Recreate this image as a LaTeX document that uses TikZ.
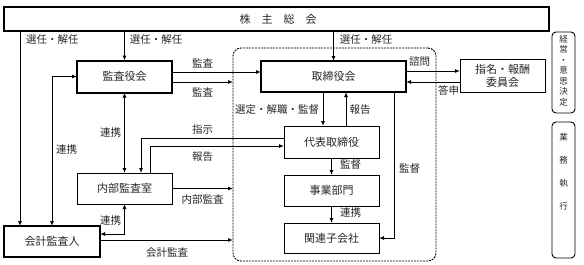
\documentclass[tikz,border=0pt]{standalone}
\usepackage{fontspec}
\newfontfamily\jp{Noto Sans CJK JP}
\usetikzlibrary{arrows.meta}
\begin{document}
\begin{tikzpicture}[x=1pt,y=-1pt,
  every node/.style={font=\jp, text=black!85, inner sep=0pt, outer sep=0pt},
  thinbox/.style={draw=black, line width=0.9pt, font=\jp\fontsize{11}{13}\selectfont},
  thickbox/.style={draw=black, line width=2pt, font=\jp\fontsize{11}{13}\selectfont},
  lbl/.style={font=\jp\fontsize{10.5}{12}\selectfont},
  conn/.style={line width=0.9pt, draw=black},
  arr/.style={conn, -{Latex[length=5pt,width=4pt]}},
  darr/.style={conn, {Latex[length=5pt,width=4pt]}-{Latex[length=5pt,width=4pt]}},
  sidebox/.style={draw=black, line width=0.9pt, rounded corners=4pt},
  sidetxt/.style={font=\jp\fontsize{8.5}{10.5}\selectfont, align=center}
]
\useasboundingbox (0,0) rectangle (584,265);

% frame
\node[draw=black, line width=0.9pt, dash pattern=on 2pt off 1pt, rounded corners=8pt,
      minimum width=203pt, minimum height=213pt] (frame) at (334.5,154.5) {};

% boxes
\node[thickbox, minimum width=545pt, minimum height=24pt] (soukai) at (276.5,19) {};
\node[font=\jp\fontsize{11}{13}\selectfont, text=black!85] (soukaitxt) at (278,19) {株　主　総　会};
\node[thickbox, minimum width=95pt, minimum height=32pt] (kansa) at (124.5,76.5) {監査役会};
\node[thickbox, minimum width=145pt, minimum height=31pt] (tori) at (333.5,76.5) {取締役会};
\node[thinbox, minimum width=85pt, minimum height=33pt, align=center] (iinkai) at (502.5,75.5) {指名・報酬\\委員会};
\node[thinbox, minimum width=95pt, minimum height=32pt] (daihyo) at (331.5,142) {代表取締役};
\node[thinbox, minimum width=95pt, minimum height=31pt] (jigyo) at (331.5,190.5) {事業部門};
\node[thinbox, minimum width=95pt, minimum height=30pt] (kanren) at (331.5,238) {関連子会社};
\node[thinbox, minimum width=95pt, minimum height=31pt] (naibu) at (124.5,188.5) {内部監査室};
\node[thickbox, minimum width=96pt, minimum height=31pt] (kaikei) at (52,241.5) {会計監査人};

% side boxes
\node[sidebox, minimum width=23pt, minimum height=81pt] (side1) at (563.5,72.5) {};
\node[sidetxt] (side1t) at (563.5,70.5) {経\\営\\・\\意\\思\\決\\定};
\node[sidebox, minimum width=23pt, minimum height=136pt] (side2) at (563.5,190) {};
\node[sidetxt, font=\jp\fontsize{8.5}{23}\selectfont] (side2t) at (563.5,172) {業\\務\\執\\行};

% connectors from 株主総会
\draw[arr] (soukai.south -| 20,0) -- (kaikei.north -| 20,0);
\draw[arr] (soukai.south -| kansa.north) -- (kansa.north);
\draw[arr] (soukai.south -| tori.north) -- (tori.north);
\node[lbl] (l1) at (52.5,40) {選任・解任};
\node[lbl] (l2) at (156,40) {選任・解任};
\node[lbl] (l3) at (366,40) {選任・解任};

% 監査
\draw[arr] (kansa.east |- 0,72) -- (tori.west |- 0,72);
\draw[arr] (kansa.east |- 0,82) -- (frame.west |- 0,82);
\node[lbl] (l4) at (202.5,63) {監査};
\node[lbl] (l5) at (202.5,92) {監査};

% 諮問・答申
\draw[arr] (tori.east |- 0,71) -- (iinkai.west |- 0,71);
\draw[arr] (iinkai.west |- 0,82) -- (tori.east |- 0,82);
\node[lbl] (l6) at (419.5,62) {諮問};
\node[lbl] (l7) at (448.5,90) {答申};

% 取締役会 - 代表取締役
\draw[arr] (tori.south -| 323,0) -- (daihyo.north -| 323,0);
\draw[arr] (daihyo.north -| 346,0) -- (tori.south -| 346,0);
\node[lbl] (l8) at (277,110) {選定・解職・監督};
\node[lbl] (l9) at (360,110) {報告};

% 監督 to 関連子会社
\draw[arr] (tori.south -| 394,0) |- (kanren.east);
\node[lbl] (l10) at (409.5,169) {監督};

% 代表 - 事業 - 関連
\draw[arr] (daihyo.south) -- (jigyo.north);
\draw[arr] (jigyo.south) -- (kanren.north);
\node[lbl] (l11) at (350.5,165) {監督};
\node[lbl] (l12) at (350.5,213) {連携};

% 指示・報告
\draw[arr] (daihyo.west |- 0,138) -| (naibu.north -| 141,0);
\draw[arr] (naibu.north -| 150,0) |- (daihyo.west |- 0,146);
\node[lbl] (l13) at (202.5,130) {指示};
\node[lbl] (l14) at (202.5,157) {報告};

% 監査役会 - 内部監査室
\draw[darr] (kansa.south) -- (naibu.north);
\node[lbl] (l15) at (110.5,133) {連携};

% 監査役会 - 会計監査人
\draw[darr] (kansa.west) -| (kaikei.north -| 52,0);
\node[lbl] (l16) at (66.5,150) {連携};

% 内部監査
\draw[arr] (naibu.east) -- (frame.west |- naibu.east);
\node[lbl] (l17) at (202.5,200) {内部監査};

% 内部監査室 - 会計監査人
\draw[darr] (naibu.south) |- (kaikei.east |- 0,234);
\node[lbl] (l18) at (110.5,221) {連携};

% 会計監査
\draw[arr] (kaikei.east |- 0,240) -- (frame.west |- 0,240);
\node[lbl] (l19) at (167,253) {会計監査};
\end{tikzpicture}
\end{document}
